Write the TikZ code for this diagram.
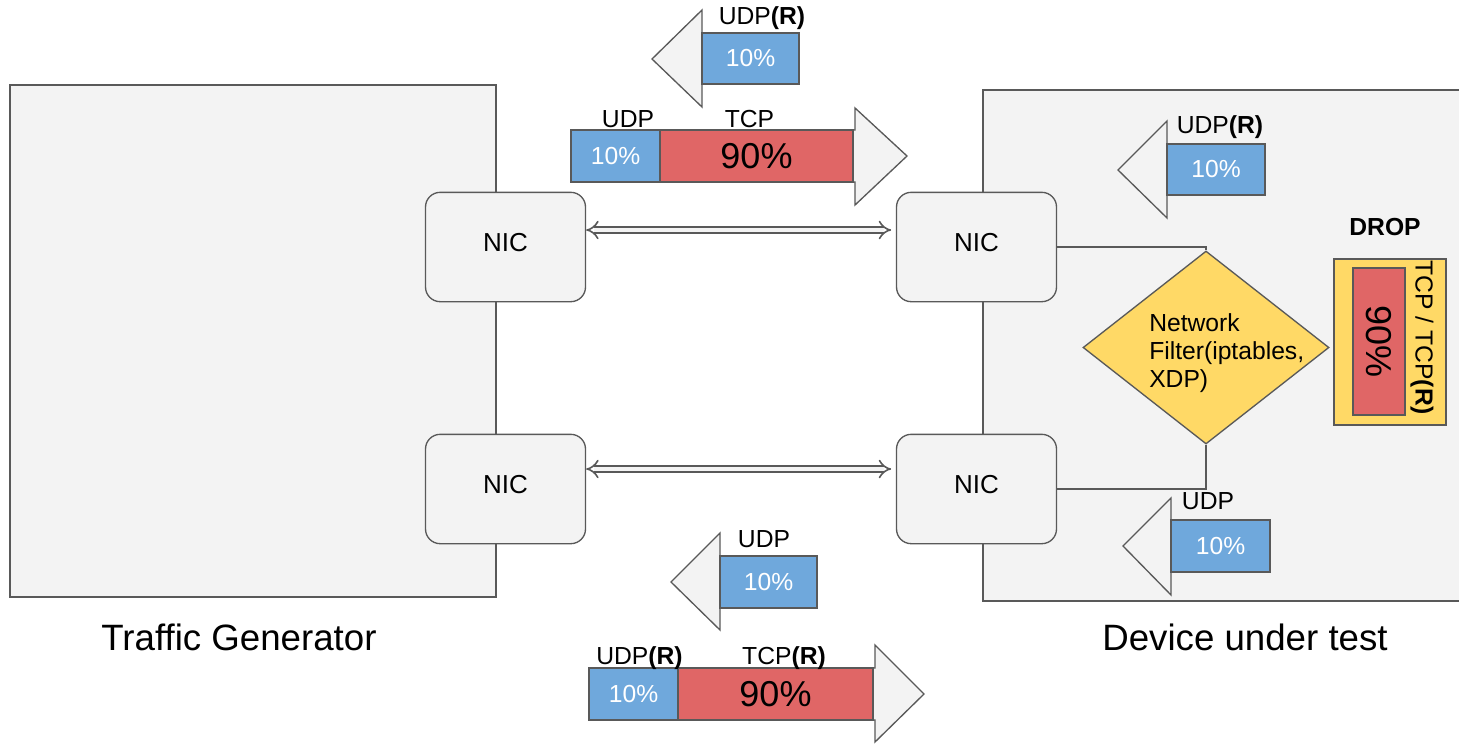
\documentclass[tikz,border=0pt]{standalone}
\usepackage{fontspec}
\setmainfont{Liberation Sans}
\usetikzlibrary{arrows.meta,shapes.geometric}
\definecolor{edge}{HTML}{595959}
\definecolor{panelfill}{HTML}{F3F3F3}
\definecolor{udpblue}{HTML}{6FA8DC}
\definecolor{tcpred}{HTML}{E06666}
\definecolor{filteryellow}{HTML}{FFD966}

\begin{document}
\begin{tikzpicture}[x=0.75pt,y=-0.75pt,
  panel/.style={draw=edge,fill=panelfill,line width=1pt},
  nic/.style={draw=edge,fill=panelfill,line width=1pt,rounded corners=11pt,
    minimum width=120pt,minimum height=82pt,text depth=7.5pt,
    font=\fontsize{19.5}{22}\selectfont},
  blockarrow/.style={draw=edge,fill=panelfill,line width=1pt,line join=miter},
  udpbar/.style={draw=edge,fill=udpblue,line width=1pt},
  tcpbar/.style={draw=edge,fill=tcpred,line width=1pt},
  small/.style={font=\fontsize{18.5}{21}\selectfont,inner sep=0pt},
  pct/.style={small,text=white},
  bigpct/.style={font=\fontsize{27}{30}\selectfont,inner sep=0pt},
  caption/.style={font=\fontsize{27.5}{30}\selectfont,inner sep=0pt,anchor=base},
  tag/.style={small,anchor=base},
  link/.style={draw=edge,line width=1pt},
  wire/.style={draw=edge,line width=1.2pt,double=panelfill,double distance=3.6pt,
    {Implies}-{Implies}}
]
\useasboundingbox (0,0) rectangle (1459,743);

% the two machines
\draw[panel] (10,85) rectangle (496,597);
\draw[panel] (983,90) rectangle (1475,601);

% network cards
\node[nic] (nicTL) at (505.5,247) {NIC};
\node[nic] (nicBL) at (505.5,489) {NIC};
\node[nic] (nicTR) at (976.5,247) {NIC};
\node[nic] (nicBR) at (976.5,489) {NIC};

% cables between the cards
\draw[wire,shorten >=3.5pt] ([yshift=12.75pt]nicTL.east) -- ([yshift=12.75pt]nicTR.west);
\draw[wire,shorten >=3.5pt] ([yshift=15pt]nicBL.east) -- ([yshift=15pt]nicBR.west);

% filter inside the device
\node[draw=edge,fill=filteryellow,line width=1pt,diamond,inner sep=0pt,
  minimum width=184.5pt,minimum height=144.75pt] (filter) at (1206,347.5) {};
\node[small,align=left,anchor=north west] (filtertxt) at (1149,313)
  {Network\\Filter(iptables,\\XDP)};
\draw[link] (nicTR.east) -| (filter.north);
\draw[link] (filter.south) |- (nicBR.east);

% dropped traffic
\node[font=\bfseries\fontsize{18.5}{21}\selectfont,anchor=base,inner sep=0pt] (drop) at (1385,235) {DROP};
\draw[draw=edge,fill=filteryellow,line width=1pt] (1334,259) rectangle (1446,425);
\draw[tcpbar] (1353,268) rectangle node[bigpct,rotate=-90] (dropPct) {90\%} (1405,415);
\node[small,rotate=-90] (dropTag) at (1422,337.5) {TCP / TCP\textbf{(R)}};

% reply flowing back to the generator (top)
\draw[blockarrow] (652,59) -- (702,10) -- (702,33) -- (799,33) -- (799,84) -- (702,84) -- (702,107) -- cycle;
\draw[udpbar] (702,33) rectangle node[pct] (udpBack) {10\%} (799,84);
\node[tag] (udpBackTag) at (762,24) {UDP\textbf{(R)}};

% traffic sent to the device (top)
\draw[blockarrow] (907,156) -- (855,108) -- (855,130) -- (571,130) -- (571,182) -- (855,182) -- (855,205) -- cycle;
\draw[udpbar] (571,130) rectangle node[pct] (udpOut) {10\%} (660,182);
\draw[tcpbar] (660,130) rectangle node[bigpct] (tcpOut) {90\%} (853,182);
\node[tag] (udpOutTag) at (628,127) {UDP};
\node[tag] (tcpOutTag) at (749.5,127) {TCP};

% inside the device: reply returning
\draw[blockarrow] (1118,170) -- (1167,121) -- (1167,144) -- (1265,144) -- (1265,195) -- (1167,195) -- (1167,218) -- cycle;
\draw[udpbar] (1167,144) rectangle node[pct] (udpDevBack) {10\%} (1265,195);
\node[tag] (udpDevBackTag) at (1220,133) {UDP\textbf{(R)}};

% inside the device: passed traffic
\draw[blockarrow] (1123,546) -- (1171,498) -- (1171,520) -- (1270,520) -- (1270,572) -- (1171,572) -- (1171,595) -- cycle;
\draw[udpbar] (1171,520) rectangle node[pct] (udpDevOut) {10\%} (1270,572);
\node[tag] (udpDevOutTag) at (1208,509) {UDP};

% forwarded traffic back to the generator (bottom)
\draw[blockarrow] (671,582) -- (720,533) -- (720,556) -- (817,556) -- (817,608) -- (720,608) -- (720,630) -- cycle;
\draw[udpbar] (720,556) rectangle node[pct] (udpFwd) {10\%} (817,608);
\node[tag] (udpFwdTag) at (764,547) {UDP};

% reply traffic sent to the device (bottom)
\draw[blockarrow] (924,694) -- (875,645) -- (875,668) -- (589,668) -- (589,720) -- (875,720) -- (875,742) -- cycle;
\draw[udpbar] (589,668) rectangle node[pct] (udpRep) {10\%} (678,720);
\draw[tcpbar] (678,668) rectangle node[bigpct] (tcpRep) {90\%} (873,720);
\node[tag] (udpRepTag) at (639.5,664) {UDP\textbf{(R)}};
\node[tag] (tcpRepTag) at (784,664) {TCP\textbf{(R)}};

% captions
\node[caption] (tgCap) at (239,650) {Traffic Generator};
\node[caption] (dutCap) at (1245,650) {Device under test};
\end{tikzpicture}
\end{document}
